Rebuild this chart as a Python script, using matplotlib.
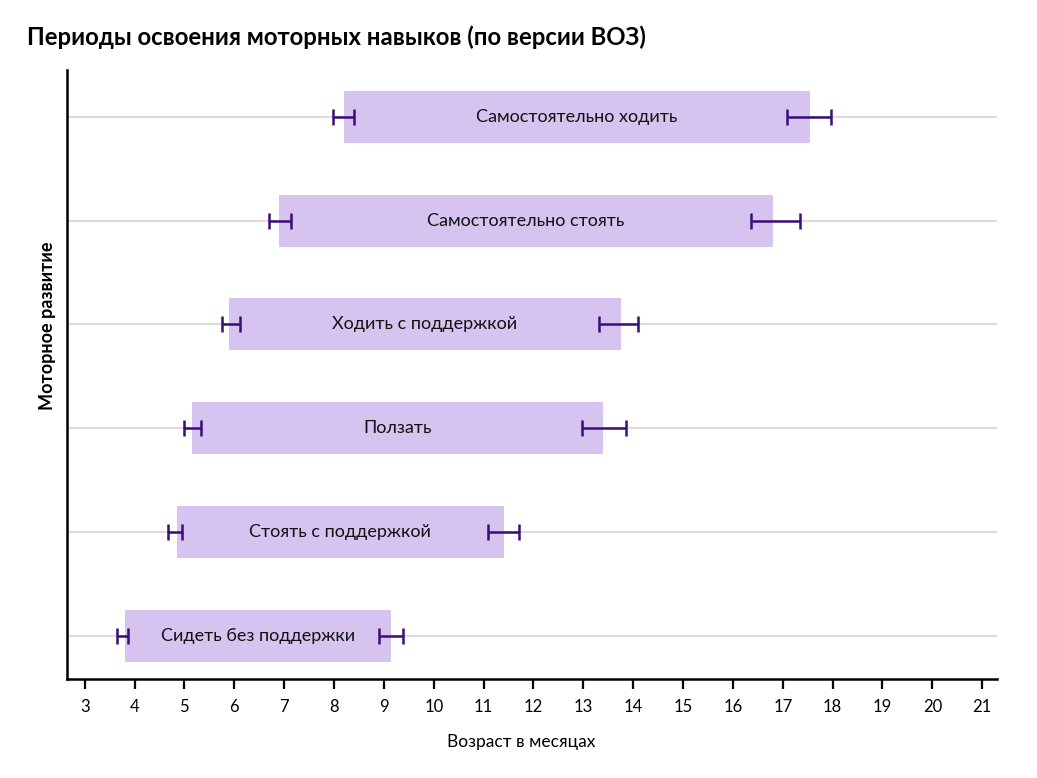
import numpy as np
import matplotlib.pyplot as plt

plt.rcParams['font.family'] = ['Lato', 'DejaVu Sans']

# Data (top to bottom as in the chart)
skills = ["Самостоятельно ходить", "Самостоятельно стоять", "Ходить с поддержкой",
          "Ползать", "Стоять с поддержкой", "Сидеть без поддержки"]
start = [8.2, 6.9, 5.9, 5.15, 4.85, 3.8]
end = [17.55, 16.8, 13.75, 13.4, 11.4, 9.15]
# intervals around the start and end of each window
start_lo = [7.97, 6.69, 5.76, 4.99, 4.67, 3.65]
start_hi = [8.40, 7.13, 6.11, 5.34, 4.96, 3.87]
end_lo = [17.09, 16.37, 13.31, 12.98, 11.09, 8.90]
end_hi = [17.96, 17.34, 14.10, 13.86, 11.71, 9.38]
months = list(range(3, 22))

bar_color = "#d6c3ef"
err_color = "#3a0d78"

fig = plt.figure(figsize=(10.37, 7.78), dpi=100)
ax = fig.add_axes([0.0646, 0.127, 0.8965, 0.783])

n = len(skills)
y = np.arange(n)[::-1]

for yi in y:
    ax.axhline(yi, color="#dcdcdc", lw=1.5, zorder=0)

width = np.array(end) - np.array(start)
ax.barh(y, width, left=start, height=0.5, color=bar_color, zorder=1)

for i in range(n):
    for lo, hi in ((start_lo[i], start_hi[i]), (end_lo[i], end_hi[i])):
        c = (lo + hi) / 2
        ax.errorbar(c, y[i], xerr=(hi - lo) / 2, fmt="none", ecolor=err_color,
                    elinewidth=1.8, capsize=6, capthick=1.8, zorder=3)
    ax.text((start[i] + end[i]) / 2, y[i], skills[i], ha="center", va="center",
            fontsize=13, color="#111111", zorder=4)

ax.set_xlim(2.645, 21.29)
ax.set_ylim(-0.417, 5.45)
ax.set_xticks(months)
ax.set_yticks([])
ax.tick_params(axis="x", length=7, width=1.6, labelsize=12, pad=7)

for s in ("top", "right"):
    ax.spines[s].set_visible(False)
for s in ("left", "bottom"):
    ax.spines[s].set_linewidth(1.8)

ax.set_xlabel("Возраст в месяцах", fontsize=12.5)
ax.xaxis.set_label_coords(0.4887, -0.09)
ax.set_ylabel("Моторное развитие", fontsize=13, fontweight="bold")
ax.yaxis.set_label_coords(-0.012, 0.58)

fig.text(0.026, 0.952, "Периоды освоения моторных навыков (по версии ВОЗ)",
         fontsize=17.2, fontweight="bold", ha="left", va="center")

fig.savefig("out.png", dpi=100)
